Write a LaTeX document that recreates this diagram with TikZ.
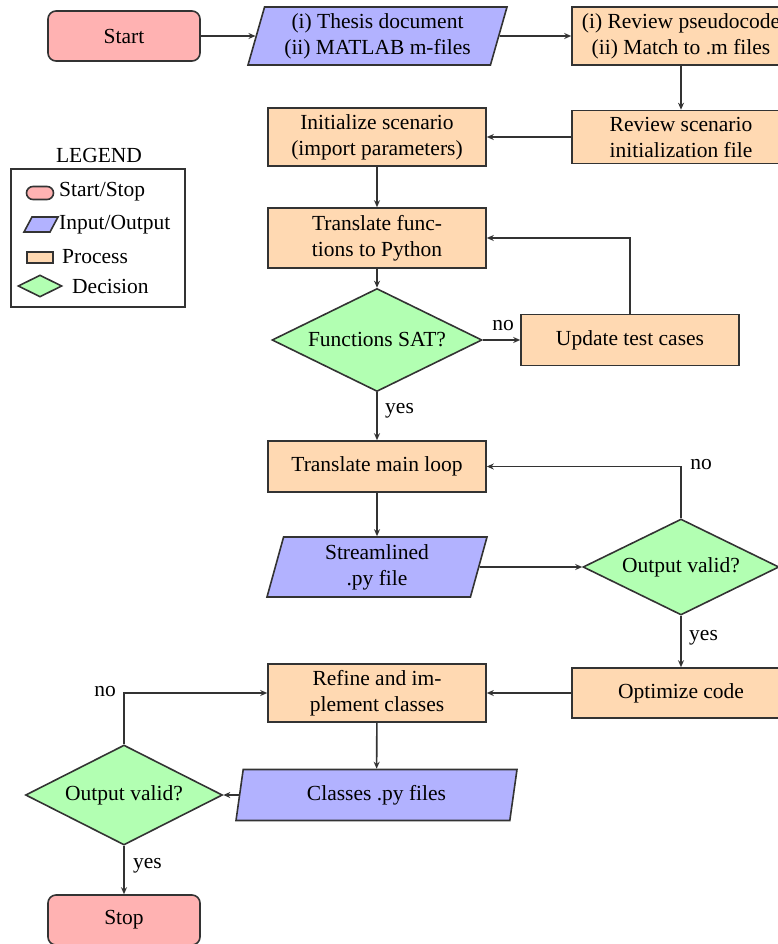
\documentclass[tikz,border=0pt]{standalone}
\usepackage{fontspec}
\setmainfont{Liberation Serif}
\usetikzlibrary{shapes.geometric,arrows.meta}
\begin{document}
\begin{tikzpicture}[x=1pt,y=-1pt,
  every node/.style={font=\fontsize{21.5}{26}\selectfont, text=black},
  base/.style={draw=black!80, line width=1.6pt, inner sep=0pt, align=center},
  startstop/.style={base, rectangle, rounded corners=8pt, fill=red!30,
    minimum width=152pt, minimum height=50pt},
  io/.style={base, trapezium, trapezium left angle=70, trapezium right angle=110,
    trapezium stretches body, fill=blue!30},
  process/.style={base, rectangle, fill=orange!30, minimum width=218pt},
  decision/.style={base, diamond, fill=green!30, aspect=2},
  arrow/.style={line width=1.6pt, draw=black!80, -{Stealth[length=7pt,width=6pt]}},
  lbl/.style={inner sep=0pt},
  legendtext/.style={inner sep=0pt, anchor=west}
]
\useasboundingbox (0,0) rectangle (778,944);
\clip (0,0) rectangle (778,944);

% main flow
\node[startstop] (start) at (124,36) {Start};
\node[io, minimum width=259pt, minimum height=58pt] (in) at (377.5,36)
  {(i) Thesis document\\(ii) MATLAB m-files};
\node[process, minimum height=58pt] (revpc) at (681,36)
  {(i) Review pseudocode\\(ii) Match to .m files};
\node[process, minimum height=53pt] (revsc) at (681,137)
  {Review scenario\\initialization file};
\node[process, minimum height=58pt] (init) at (377,137)
  {Initialize scenario\\(import parameters)};
\node[process, minimum height=60pt] (trf) at (377,238)
  {Translate func-\\tions to Python};
\node[decision, minimum width=210pt, minimum height=103pt] (sat) at (377,340)
  {Functions SAT?};
\node[process, minimum height=51pt] (upd) at (630,340) {Update test cases};
\node[process, minimum height=51pt] (main) at (377,466.5) {Translate main loop};
\node[io, minimum width=220pt, minimum height=60pt] (stream) at (377,567)
  {Streamlined\\.py file};
\node[decision, minimum width=196pt, minimum height=96pt] (ov1) at (681,567)
  {Output valid?};
\node[process, minimum height=50pt] (opt) at (681,693) {Optimize code};
\node[process, minimum height=58pt] (ref) at (377,693)
  {Refine and im-\\plement classes};
\node[io, minimum width=281pt, minimum height=51pt] (cls) at (376.5,795)
  {Classes .py files};
\node[decision, minimum width=197pt, minimum height=100pt] (ov2) at (124,795)
  {Output valid?};
\node[startstop] (stop) at (124,920) {Stop};

% connectors
\draw[arrow] (start) -- (in);
\draw[arrow] (in) -- (revpc);
\draw[arrow] (revpc) -- (revsc);
\draw[arrow] (revsc) -- (init);
\draw[arrow] (init) -- (trf);
\draw[arrow] (trf) -- (sat);
\draw[arrow] (sat) -- (upd);
\draw[arrow] (upd.north) |- (trf.east);
\draw[arrow] (sat) -- (main);
\draw[arrow] (main) -- (stream);
\draw[arrow] (stream) -- (ov1);
\draw[arrow] (ov1.north) |- (main.east);
\draw[arrow] (ov1) -- (opt);
\draw[arrow] (opt) -- (ref);
\draw[arrow] (ref) -- (cls);
\draw[arrow] (cls) -- (ov2);
\draw[arrow] (ov2.north) |- (ref.west);
\draw[arrow] (ov2) -- (stop);

% branch labels
\node[lbl] (nosat) at (503,326) {no};
\node[lbl, anchor=west] (yessat) at (385,411) {yes};
\node[lbl] (noov1) at (701,465) {no};
\node[lbl, anchor=west] (yesov1) at (689,638) {yes};
\node[lbl] (noov2) at (105,692) {no};
\node[lbl, anchor=west] (yesov2) at (133,866) {yes};

% legend
\node[lbl] (legtitle) at (99,155) {LEGEND};
\node[draw=black!80, line width=1.6pt, minimum width=174pt, minimum height=138pt,
  inner sep=0pt] (legbox) at (98,238) {};
\node[base, fill=red!30, rounded corners=6.5pt, minimum width=27pt,
  minimum height=13pt] (lgss) at (40,193) {};
\node[legendtext] (lgsst) at (59,192) {Start/Stop};
\draw[draw=black!80, line width=1.6pt, fill=blue!30]
  (24,232) -- (32,217) -- (58,217) -- (50,232) -- cycle;
\node[legendtext] (lgiot) at (59,225) {Input/Output};
\node[process, minimum width=26pt, minimum height=11pt] (lgpr) at (40,257.5) {};
\node[legendtext] (lgprt) at (62,257) {Process};
\node[decision, minimum width=44pt, minimum height=22pt] (lgdc) at (40,286) {};
\node[legendtext] (lgdct) at (72,286) {Decision};
\end{tikzpicture}
\end{document}
